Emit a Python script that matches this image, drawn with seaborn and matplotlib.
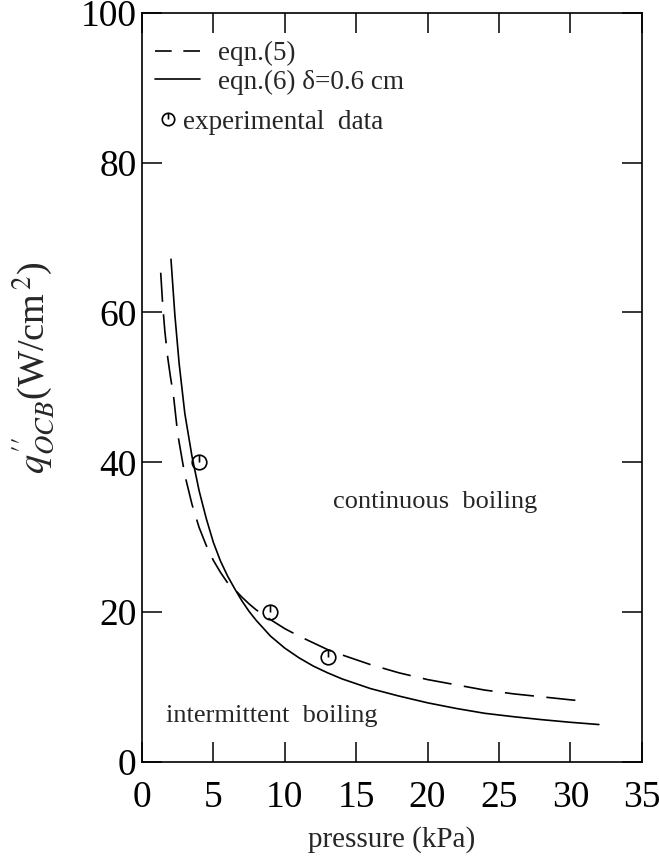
import numpy as np
import pandas as pd
import matplotlib
matplotlib.use("Agg")
import matplotlib.pyplot as plt
from matplotlib.path import Path
import seaborn as sns

# ---- data ----
eqn5_p = [1.31, 1.45, 1.6, 1.8, 2.0, 2.2, 2.5, 2.78, 3.0, 3.5, 4.0, 4.5, 5.0, 5.5, 6.0, 6.5,
          7.0, 7.5, 8.0, 9.0, 10, 11, 12, 13, 14, 16, 18, 20, 22, 24, 26, 28, 30, 31.1]
eqn5_q = [65.3, 61.0, 57.5, 54.0, 51.3, 49.0, 43.8, 40.7, 38.3, 34.4, 31.3, 28.9, 26.9, 25.3, 23.9, 23.0,
          22.0, 21.1, 20.3, 19.0, 17.8, 16.8, 15.9, 15.0, 14.3, 13.0, 11.9, 11.0, 10.3, 9.6, 9.1, 8.7, 8.3, 8.1]

eqn6_p = [2.03, 2.3, 2.6, 3.0, 3.5, 4.0, 4.5, 5.0, 5.5, 6.0, 6.5, 7.0, 7.5, 8.0, 9.0, 10, 11, 12,
          13, 14, 16, 18, 20, 22, 24, 26, 28, 30, 32]
eqn6_q = [67.1, 59.7, 53.2, 46.5, 40.8, 36.2, 32.5, 29.3, 26.8, 24.8, 23.1, 21.5, 20.1, 18.9, 16.8, 15.2, 13.9, 12.8,
          11.9, 11.1, 9.8, 8.8, 7.9, 7.15, 6.5, 6.05, 5.65, 5.3, 5.0]

exp_p = [4, 9, 13]
exp_q = [40, 20, 14]

x_ticks = [0, 5, 10, 15, 20, 25, 30, 35]
y_ticks = [0, 20, 40, 60, 80, 100]

# ---- style ----
sns.set_style("ticks")
plt.rcParams["font.family"] = ["Liberation Serif", "DejaVu Serif"]
plt.rcParams["mathtext.fontset"] = "stix"

fig = plt.figure(figsize=(6.59, 8.58), dpi=100)
ax = fig.add_axes([142/659, 1-762/858, (641.7-142)/659, (762-12.7)/858])

df5 = pd.DataFrame({"p": eqn5_p, "q": eqn5_q})
df6 = pd.DataFrame({"p": eqn6_p, "q": eqn6_q})
dfe = pd.DataFrame({"p": exp_p, "q": exp_q})

sns.lineplot(data=df5, x="p", y="q", ax=ax, color="black", lw=1.2,
             linestyle=(0, (17.5, 7.5)), sort=False, label="eqn.(5)")
sns.lineplot(data=df6, x="p", y="q", ax=ax, color="black", lw=1.2,
             sort=False, label="eqn.(6) δ=0.6 cm")

circle = Path.unit_circle()
tick = Path([(0, 1), (0, 0)], [Path.MOVETO, Path.LINETO])
mk = Path.make_compound_path(circle, tick)

pts, = ax.plot(dfe["p"], dfe["q"], linestyle="none", marker=mk, ms=10.5,
               mfc="none", mec="black", mew=1.2, label="experimental  data")

ax.set_xlim(0, 35)
ax.set_ylim(0, 100)
ax.set_xticks(x_ticks)
ax.set_yticks(y_ticks)
ax.tick_params(direction="in", length=14.5, width=1.1, top=True, right=True,
               labelsize=27, colors="black")
ax.tick_params(axis="x", pad=13)
ax.tick_params(axis="y", pad=4)
for s in ax.spines.values():
    s.set_linewidth(1.2)
    s.set_color("black")

ax.set_xlabel("pressure (kPa)", fontsize=21, labelpad=8)
ax.set_ylabel(r"$q^{\prime\prime}_{OCB}$(W/cm$^{\,2}$)", fontsize=27.5)
ax.yaxis.set_label_coords(-0.17, 0.526)

ax.text(20.55, 34.7, "continuous  boiling", fontsize=19, ha="center", va="center")
ax.text(9.06, 6.1, "intermittent  boiling", fontsize=19, ha="center", va="center")

h, l = ax.get_legend_handles_labels()
leg1 = ax.legend(h[:2], l[:2], loc="upper left", bbox_to_anchor=(0.026, 0.962),
                 frameon=False, fontsize=19.5, handlelength=1.66, handletextpad=0.675,
                 borderpad=0, borderaxespad=0, labelspacing=0.12)
leg1.get_lines()[0].set_linestyle((0, (10, 7)))
ax.add_artist(leg1)
leg2 = ax.legend([pts], ["experimental  data"], loc="upper left",
                 bbox_to_anchor=(0.0304, 0.8705), frameon=False, fontsize=19.5,
                 handlelength=0.8, handletextpad=0.16, borderpad=0, borderaxespad=0,
                 markerscale=0.85)

fig.savefig("out.png", dpi=100)
